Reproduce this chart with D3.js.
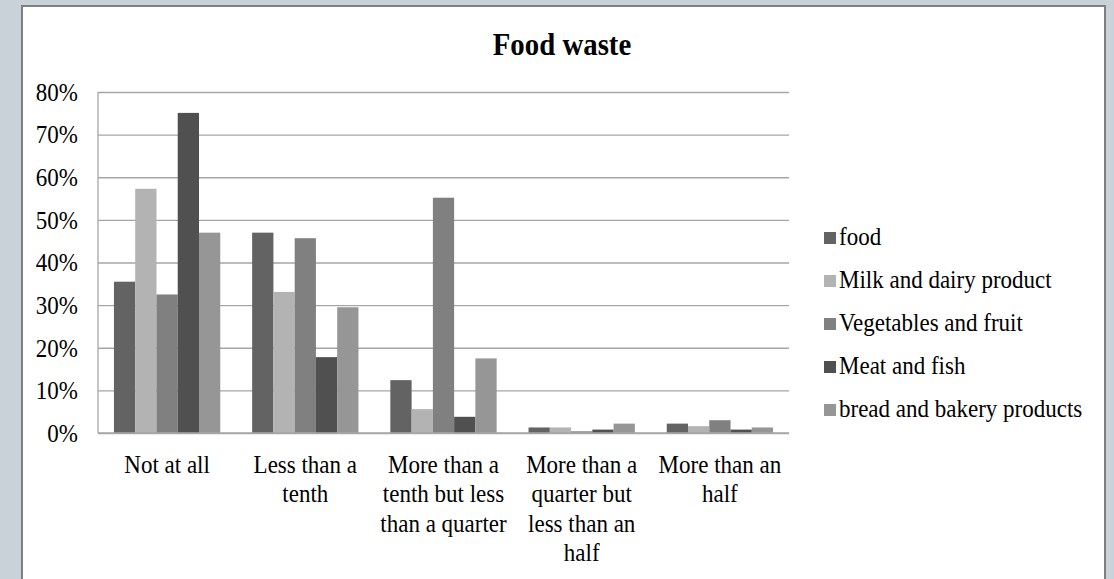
<!DOCTYPE html>
<html>
<head>
<meta charset="utf-8">
<script src="https://cdn.jsdelivr.net/npm/d3@7"></script>
<style>
  html, body { margin: 0; padding: 0; background: #c8d2d8; }
  svg { display: block; }
  text { font-family: "Liberation Serif", "Times New Roman", serif; fill: #000; }
</style>
</head>
<body>
<svg id="chart" width="1114" height="579"></svg>
<script>
// Share of each food group wasted, by how much is thrown away
const categories = [
  "Not at all",
  "Less than a tenth",
  "More than a tenth but less than a quarter",
  "More than a quarter but less than an half",
  "More than an half"
];
const seriesNames = [
  "food",
  "Milk and dairy product",
  "Vegetables and fruit",
  "Meat and fish",
  "bread and bakery products"
];
const food      = [0.355, 0.470, 0.124, 0.013, 0.022];
const milkDairy = [0.573, 0.331, 0.056, 0.013, 0.016];
const vegFruit  = [0.325, 0.457, 0.552, 0.004, 0.030];
const meatFish  = [0.751, 0.178, 0.038, 0.008, 0.008];
const bread     = [0.470, 0.295, 0.175, 0.022, 0.013];
const seriesValues = [food, milkDairy, vegFruit, meatFish, bread];
const yTicks = [0, 0.1, 0.2, 0.3, 0.4, 0.5, 0.6, 0.7, 0.8];
const colors = ["#636363", "#b3b3b3", "#808080", "#505050", "#969696"];

const svg = d3.select("#chart");
const squeeze = 0.92;   // serif faces are drawn slightly condensed

// card
svg.append("rect")
  .attr("x", 22).attr("y", 6).attr("width", 1083).attr("height", 600)
  .attr("fill", "#fff").attr("stroke", "#7f7f7f").attr("stroke-width", 2);

// title
svg.append("text")
  .attr("transform", "translate(562,55) scale(0.93,1)")
  .attr("text-anchor", "middle")
  .attr("font-size", 31).attr("font-weight", "bold")
  .text("Food waste");

const plot = { left: 98, right: 789, top: 92, bottom: 433 };

const y = d3.scaleLinear().domain([0, 0.8]).range([plot.bottom, plot.top]);
const x0 = d3.scaleBand().domain(categories)
  .range([plot.left, plot.right]).paddingInner(1.5 / 6.5).paddingOuter(0.75 / 6.5);
const x1 = d3.scaleBand().domain(seriesNames).range([0, x0.bandwidth()]);

// gridlines + y labels
const yAxis = d3.axisLeft(y).tickValues(yTicks).tickFormat(d3.format(".0%"))
  .tickSize(-(plot.right - plot.left)).tickPadding(20);
const gy = svg.append("g").attr("transform", `translate(${plot.left},0)`).call(yAxis);
gy.select(".domain").remove();
gy.selectAll(".tick line").attr("stroke", "#a6a6a6").attr("stroke-width", 1.3);
gy.selectAll(".tick text")
  .attr("font-size", 25)
  .attr("font-family", "Liberation Serif, Times New Roman, serif")
  .attr("dy", "0.33em")
  .attr("x", null)
  .attr("transform", `translate(-20,0) scale(${squeeze},1)`);

// left axis line
svg.append("line")
  .attr("x1", plot.left).attr("x2", plot.left)
  .attr("y1", plot.top).attr("y2", plot.bottom)
  .attr("stroke", "#a6a6a6").attr("stroke-width", 1.3);

// bars
const rows = categories.map((c, i) => ({
  cat: c,
  vals: seriesNames.map((s, j) => ({ s, j, v: seriesValues[j][i] }))
}));
svg.append("g").selectAll("g").data(rows).join("g")
  .attr("transform", d => `translate(${x0(d.cat)},0)`)
  .selectAll("rect").data(d => d.vals).join("rect")
  .attr("x", d => x1(d.s))
  .attr("width", x1.bandwidth())
  .attr("y", d => y(d.v))
  .attr("height", d => y(0) - y(d.v))
  .attr("fill", d => colors[d.j]);

// bottom axis line
svg.append("line")
  .attr("x1", plot.left).attr("x2", plot.right)
  .attr("y1", plot.bottom).attr("y2", plot.bottom)
  .attr("stroke", "#a6a6a6").attr("stroke-width", 1.3);

// category labels, wrapped to the category width
const maxW = x0.step() - 6;
categories.forEach(cat => {
  const cx = x0(cat) + x0.bandwidth() / 2;
  const t = svg.append("text")
    .attr("transform", `translate(${cx},473) scale(${squeeze},1)`)
    .attr("text-anchor", "middle").attr("font-size", 25);
  const words = cat.split(" ");
  let line = [];
  let lineNo = 0;
  let tspan = t.append("tspan").attr("x", 0).attr("y", 0);
  words.forEach(w => {
    line.push(w);
    tspan.text(line.join(" "));
    if (tspan.node().getComputedTextLength() * squeeze > maxW && line.length > 1) {
      line.pop();
      tspan.text(line.join(" "));
      line = [w];
      lineNo++;
      tspan = t.append("tspan").attr("x", 0).attr("y", lineNo * 29.5).text(w);
    }
  });
});

// legend
const legend = svg.append("g");
seriesNames.forEach((s, i) => {
  const by = 245 + i * 43;
  legend.append("rect")
    .attr("x", 824).attr("y", by - 13).attr("width", 12).attr("height", 12)
    .attr("fill", colors[i]);
  legend.append("text")
    .attr("transform", `translate(839,${by}) scale(${squeeze},1)`)
    .attr("font-size", 25)
    .text(s);
});
</script>
</body>
</html>
